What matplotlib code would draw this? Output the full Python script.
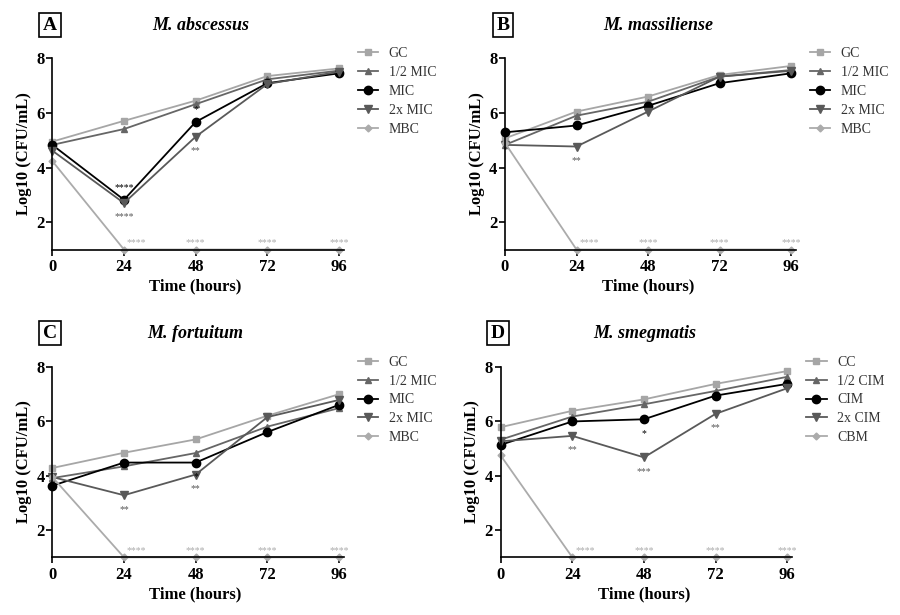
import matplotlib
matplotlib.use("Agg")
import matplotlib.pyplot as plt

plt.rcParams['font.family'] = ['Liberation Serif', 'DejaVu Serif']

hours = [0, 24, 48, 72, 96]
labels_mic = ['GC', '1/2 MIC', 'MIC', '2x MIC', 'MBC']
labels_cim = ['CC', '1/2 CIM', 'CIM', '2x CIM', 'CBM']

# A - M. abscessus
abs_gc   = [4.95, 5.71, 6.45, 7.35, 7.63]
abs_half = [4.83, 5.41, 6.32, 7.23, 7.55]
abs_mic  = [4.83, 2.82, 5.67, 7.09, 7.45]
abs_2x   = [4.62, 2.70, 5.13, 7.06, 7.51]
abs_mbc  = [4.24, 1.0, 1.0, 1.0, 1.0]

# B - M. massiliense
mas_gc   = [5.07, 6.05, 6.60, 7.39, 7.72]
mas_half = [4.83, 5.90, 6.41, 7.33, 7.57]
mas_mic  = [5.29, 5.54, 6.26, 7.09, 7.45]
mas_2x   = [4.83, 4.77, 6.05, 7.33, 7.54]
mas_mbc  = [4.90, 1.0, 1.0, 1.0, 1.0]

# C - M. fortuitum
for_gc   = [4.28, 4.84, 5.33, 6.20, 6.99]
for_half = [3.91, 4.34, 4.83, 5.80, 6.48]
for_mic  = [3.63, 4.48, 4.48, 5.60, 6.60]
for_2x   = [3.95, 3.28, 4.04, 6.15, 6.78]
for_mbc  = [3.95, 1.0, 1.0, 1.0, 1.0]

# D - M. smegmatis
sme_cc   = [5.78, 6.38, 6.80, 7.37, 7.84]
sme_half = [5.32, 6.17, 6.62, 7.11, 7.63]
sme_cim  = [5.13, 5.99, 6.07, 6.94, 7.37]
sme_2x   = [5.26, 5.46, 4.67, 6.27, 7.21]
sme_cbm  = [4.74, 1.0, 1.0, 1.0, 1.0]

# significance marks: (series index, time index, text, side)
stars_a = [(2, 1, '****', 'above'), (3, 1, '****', 'below'),
           (2, 2, '*', 'above'), (3, 2, '**', 'below')]
stars_b = [(3, 1, '**', 'below')]
stars_c = [(3, 1, '**', 'below'), (2, 2, '*', 'below'), (3, 2, '**', 'below')]
stars_d = [(3, 1, '**', 'below'), (2, 2, '*', 'below'),
           (3, 2, '***', 'below'), (3, 3, '**', 'below')]

colors = ['#a6a6a6', '#666666', '#000000', '#595959', '#ababab']
markers = ['s', '^', 'o', 'v', 'D']
msizes = [5, 5, 6, 5.5, 3.5]

panels = [
    ('A', 'M. abscessus', [abs_gc, abs_half, abs_mic, abs_2x, abs_mbc], labels_mic, stars_a,
     [0.0581, 0.5943, 0.3236, 0.3109], (50, 25), 201, (0.398, 0.923)),
    ('B', 'M. massiliense', [mas_gc, mas_half, mas_mic, mas_2x, mas_mbc], labels_mic, stars_b,
     [0.5611, 0.5943, 0.3228, 0.3109], (503, 25), 658, (0.900, 0.923)),
    ('C', 'M. fortuitum', [for_gc, for_half, for_mic, for_2x, for_mbc], labels_mic, stars_c,
     [0.0581, 0.0938, 0.3236, 0.3099], (50, 333), 195, (0.398, 0.4215)),
    ('D', 'M. smegmatis', [sme_cc, sme_half, sme_cim, sme_2x, sme_cbm], labels_cim, stars_d,
     [0.5563, 0.0938, 0.3234, 0.3099], (498, 333), 645, (0.896, 0.4215)),
]

W, H = 900, 615
fig = plt.figure(figsize=(9, 6.15), dpi=100)

for letter, title, series, labels, stars, rect, box_xy, title_x, leg_xy in panels:
    ax = fig.add_axes(rect)
    for vals, lab, c, m, ms in zip(series, labels, colors, markers, msizes):
        ax.plot(hours, vals, color=c, marker=m, markersize=ms, linewidth=1.3,
                markeredgecolor=c, label=lab, clip_on=False)

    for si, ti, txt, side in stars:
        dy = 9 if side == 'above' else -10
        ax.annotate(txt, (hours[ti], series[si][ti]), xytext=(0, dy),
                    textcoords='offset points', ha='center', va='center',
                    fontsize=7, color=colors[si])
    # bactericidal marks along the floor
    for ti in range(1, 5):
        dx = 9 if ti == 1 else 0
        ax.annotate('****', (hours[ti], series[4][ti]), xytext=(dx, 5),
                    textcoords='offset points', ha='center', va='center',
                    fontsize=7, color=colors[4])

    ax.set_xlim(0, 97.5)
    ax.set_ylim(1, 8)
    ax.set_xticks(hours)
    ax.set_yticks([2, 4, 6, 8])
    for s in ['top', 'right']:
        ax.spines[s].set_visible(False)
    for s in ['left', 'bottom']:
        ax.spines[s].set_linewidth(1.2)
    ax.tick_params(width=1.2, length=4, labelsize=12, pad=1.5)
    ax.tick_params(axis='x', pad=3)
    for t in ax.get_xticklabels() + ax.get_yticklabels():
        t.set_fontweight('bold')
    ax.set_xlabel('Time (hours)', fontsize=12, fontweight='bold')
    ax.set_ylabel('Log10 (CFU/mL)', fontsize=12, fontweight='bold')
    ax.xaxis.set_label_coords(0.492, -0.15)
    ax.yaxis.set_label_coords(-0.07, 0.5)

    fig.text(box_xy[0] / W, 1 - box_xy[1] / H, letter, ha='center', va='center',
             fontsize=14, fontweight='bold',
             bbox=dict(boxstyle='square,pad=0.2', fc='white', ec='black', lw=1.2))
    fig.text(title_x / W, 1 - box_xy[1] / H, title, ha='center', va='center',
             fontsize=13, fontweight='bold', fontstyle='italic')

    leg = ax.legend(loc='upper left', bbox_to_anchor=leg_xy, bbox_transform=fig.transFigure,
                    frameon=False, fontsize=10, handlelength=1.45, handletextpad=0.75,
                    labelspacing=0.42, borderpad=0, borderaxespad=0)
    for t in leg.get_texts():
        t.set_color('#333333')

fig.savefig('out.png', dpi=100)
